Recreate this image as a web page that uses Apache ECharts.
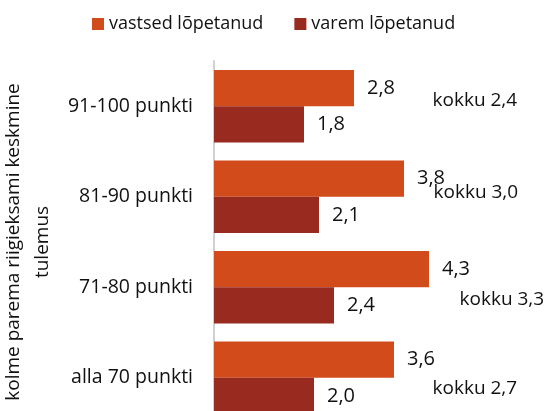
<!DOCTYPE html>
<html>
<head>
<meta charset="utf-8">
<script src="https://cdn.jsdelivr.net/npm/echarts@6/dist/echarts.min.js"></script>
<style>
  html, body { margin: 0; padding: 0; background: #fff; overflow: hidden; }
  /* taller than the window: the last group is cut off at the bottom edge */
  #chart { width: 554px; height: 430px; }
</style>
</head>
<body>
<div id="chart"></div>
<script>
const categories = ['91-100 punkti', '81-90 punkti', '71-80 punkti', 'alla 70 punkti']
const vastsed = [2.8, 3.8, 4.3, 3.6]
const varem = [1.8, 2.1, 2.4, 2.0]
const kokku = [2.4, 3.0, 3.3, 2.7]
// where the "kokku" notes sit (x in axis units, y shift in px)
const kokkuX = [4.36, 4.38, 4.9, 4.36]
const kokkuDy = [-6, -4, 12, 11]

const fmt = v => v.toFixed(1).replace('.', ',')
const font = 'Open Sans'
const ink = '#111'

const chart = echarts.init(document.getElementById('chart'))

const option = {
  animation: false,
  textStyle: { fontFamily: font },
  legend: {
    top: 15,
    left: 92,
    padding: 0,
    itemWidth: 12,
    itemHeight: 12,
    itemGap: 31,
    icon: 'rect',
    textStyle: { fontSize: 18, color: ink, fontFamily: font },
    data: ['vastsed lõpetanud', 'varem lõpetanud']
  },
  grid: {
    left: 214, top: 61, width: 325, height: 362,
    containLabel: false, outerBoundsMode: 'none'
  },
  xAxis: {
    type: 'value',
    min: 0,
    max: 6.5,
    show: false
  },
  yAxis: {
    type: 'category',
    inverse: true,
    data: categories,
    axisTick: { show: false },
    axisLine: { lineStyle: { color: '#d0d0d0', width: 2 } },
    axisLabel: { fontSize: 19.5, color: ink, margin: 21, fontFamily: font },
    name: 'kolme parema riigieksami keskmine\ntulemus',
    nameLocation: 'middle',
    nameGap: 154,
    nameTextStyle: { fontSize: 19, color: ink, lineHeight: 29, fontFamily: font }
  },
  series: [
    {
      name: 'vastsed lõpetanud',
      type: 'bar',
      data: vastsed,
      barGap: '0%',
      barCategoryGap: '20%',
      itemStyle: { color: '#d24b1a' },
      label: {
        show: true, position: 'right', distance: 13,
        fontSize: 20, color: ink, fontFamily: font,
        formatter: p => fmt(p.value)
      }
    },
    {
      name: 'varem lõpetanud',
      type: 'bar',
      data: varem,
      barGap: '0%',
      barCategoryGap: '20%',
      itemStyle: { color: '#992a1f' },
      label: {
        show: true, position: 'right', distance: 13,
        fontSize: 20, color: ink, fontFamily: font,
        formatter: p => fmt(p.value)
      }
    },
    {
      name: 'kokku',
      type: 'scatter',
      symbolSize: 1,
      silent: true,
      itemStyle: { color: 'rgba(0,0,0,0)', opacity: 1 },
      data: categories.map((c, i) => ({
        value: [kokkuX[i], c],
        total: kokku[i],
        label: { offset: [0, kokkuDy[i]] }
      })),
      label: {
        show: true, position: 'right', distance: 0,
        fontSize: 19, color: ink, fontFamily: font,
        formatter: p => 'kokku ' + fmt(p.data.total)
      }
    }
  ]
}

chart.setOption(option)
</script>
</body>
</html>
